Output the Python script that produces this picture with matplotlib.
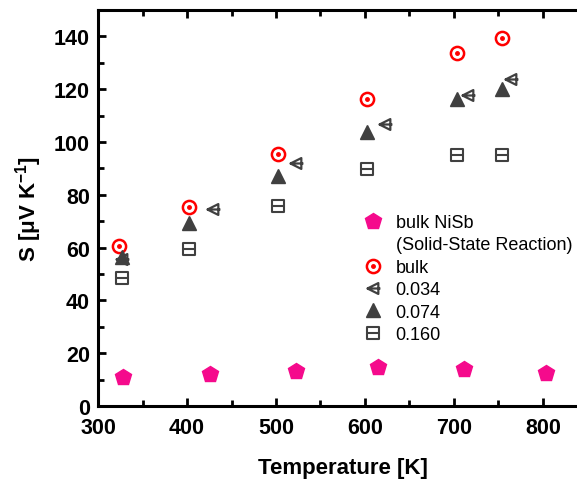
import numpy as np
import matplotlib
matplotlib.use("Agg")
import matplotlib.pyplot as plt
from matplotlib.path import Path
from matplotlib.lines import Line2D
from matplotlib.legend_handler import HandlerTuple

plt.rcParams['font.family'] = ['Liberation Sans', 'DejaVu Sans']

# data
T_nisb = np.array([328, 426, 522, 615, 711, 804])
S_nisb = np.array([11.0, 12.0, 13.2, 14.8, 14.0, 12.4])

T_bulk = np.array([323, 402, 502, 602, 703, 754])
S_bulk = np.array([60.6, 75.5, 95.6, 116.3, 133.7, 139.5])

T_034 = np.array([327, 429, 522, 622, 716, 764])
S_034 = np.array([55.8, 74.6, 92.0, 106.8, 117.9, 123.9])

T_074 = np.array([327, 402, 502, 602, 703, 754])
S_074 = np.array([56.5, 69.3, 87.0, 103.8, 116.3, 120.2])

T_160 = np.array([327, 402, 502, 602, 703, 754])
S_160 = np.array([48.5, 59.5, 75.8, 89.6, 95.0, 95.0])

gray = '#404040'
pink = '#f50a8c'

# custom markers: open left triangle with centre line, square with centre line
tri_line = Path([(-1, 0), (0.8, 0.9), (0.8, -0.9), (-1, 0), (-1, 0), (1.15, 0)],
                [Path.MOVETO, Path.LINETO, Path.LINETO, Path.CLOSEPOLY,
                 Path.MOVETO, Path.LINETO])
sq_line = Path([(-1, -1), (1, -1), (1, 1), (-1, 1), (-1, -1), (-1, 0), (1, 0)],
               [Path.MOVETO, Path.LINETO, Path.LINETO, Path.LINETO,
                Path.CLOSEPOLY, Path.MOVETO, Path.LINETO])

fig = plt.figure(figsize=(5.77, 4.81), dpi=100)
ax = fig.add_axes([0.170, 0.154, 0.848, 0.823])

h1, = ax.plot(T_nisb, S_nisb, ls='none', marker='p', ms=12, color=pink, mec=pink)
h2a, = ax.plot(T_bulk, S_bulk, ls='none', marker='o', ms=9.5, mfc='none', mec='red', mew=1.8)
h2b, = ax.plot(T_bulk, S_bulk, ls='none', marker='o', ms=2.5, color='red', mec='red')
h3, = ax.plot(T_034, S_034, ls='none', marker=tri_line, ms=10, mfc='none', mec=gray, mew=1.6)
h4, = ax.plot(T_074, S_074, ls='none', marker='^', ms=10, color=gray, mec=gray)
h5, = ax.plot(T_160, S_160, ls='none', marker=sq_line, ms=8, mfc='none', mec=gray, mew=1.5)
blank = Line2D([], [], ls='none', marker='none')

ax.set_xlim(300, 850)
ax.set_ylim(0, 150)
ax.set_xticks(np.arange(300, 801, 100))
ax.set_xticks(np.arange(350, 850, 100), minor=True)
ax.set_yticks(np.arange(0, 141, 20))
ax.set_yticks(np.arange(10, 150, 20), minor=True)

for s in ax.spines.values():
    s.set_linewidth(2.2)
ax.spines['right'].set_visible(False)
ax.tick_params(which='both', direction='in', top=True, width=2, labelsize=15.5)
ax.tick_params(axis='y', pad=6)
ax.tick_params(axis='x', pad=8)
ax.tick_params(which='major', length=6)
ax.tick_params(which='minor', length=4)
for lab in ax.get_xticklabels() + ax.get_yticklabels():
    lab.set_fontweight('bold')

ax.set_xlabel('Temperature [K]', fontsize=16, fontweight='bold', labelpad=14)
ax.set_ylabel(r'S [$\mathregular{\mu}$V K$^{\mathregular{-1}}$]', fontsize=16,
              fontweight='bold', labelpad=7)

ax.legend([h1, blank, (h2a, h2b), h3, h4, h5],
          ['bulk NiSb', '(Solid-State Reaction)', 'bulk', '0.034', '0.074', '0.160'],
          handler_map={tuple: HandlerTuple(ndivide=1, pad=0)},
          loc='upper left', bbox_to_anchor=(363 / 577, 1 - 215 / 481),
          bbox_transform=fig.transFigure, frameon=False, fontsize=13,
          handlelength=1.1, handletextpad=0.7, borderpad=0, borderaxespad=0,
          labelspacing=0.3)

fig.savefig('out.png', dpi=100)
